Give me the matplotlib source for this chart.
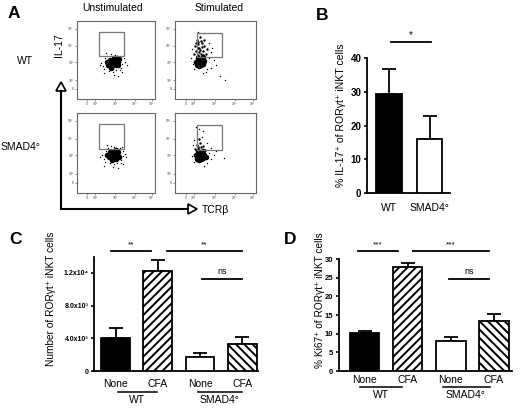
import matplotlib
matplotlib.use('Agg')
import matplotlib.pyplot as plt
from matplotlib.patches import Rectangle, Polygon

plt.rcParams['font.family'] = ['Liberation Sans', 'DejaVu Sans']
plt.rcParams['hatch.linewidth'] = 1.4
plt.rcParams['axes.linewidth'] = 1.3

# ---------------- data ----------------
flow_rows = ['WT', 'SMAD4°']
flow_cols = ['Unstimulated', 'Stimulated']
gate_freq = ['0', '35.7', '0', '13']
flow_ticklabels = ['0', '10²', '10³', '10⁴', '10⁵']

core1 = [(0.40,0.44),(0.44,0.48),(0.48,0.50),(0.52,0.47),(0.46,0.43),(0.50,0.43),(0.42,0.50),(0.47,0.52),
         (0.54,0.51),(0.38,0.47),(0.44,0.40),(0.53,0.44),(0.49,0.46),(0.43,0.45),(0.51,0.53)]
sparse1 = [(0.33,0.42),(0.35,0.38),(0.58,0.45),(0.60,0.52),(0.36,0.52),(0.57,0.40),(0.41,0.36),(0.50,0.37),
           (0.46,0.35),(0.31,0.46),(0.62,0.48),(0.56,0.55),(0.39,0.55),(0.49,0.57),(0.55,0.37),(0.29,0.44),
           (0.58,0.34),(0.47,0.31),(0.64,0.44),(0.34,0.33),(0.60,0.58),(0.37,0.59),(0.52,0.30),(0.43,0.58)]
core2 = [(0.27,0.44),(0.31,0.47),(0.35,0.45),(0.29,0.50),(0.33,0.51),(0.30,0.42),(0.36,0.49),(0.26,0.48),
         (0.32,0.43),(0.34,0.54),(0.28,0.53)]
mid2 = [(0.28,0.57),(0.32,0.58),(0.26,0.62),(0.30,0.65),(0.34,0.62),(0.29,0.70),(0.33,0.72),(0.27,0.76),
        (0.31,0.80),(0.36,0.68),(0.25,0.68),(0.38,0.58),(0.30,0.60),(0.28,0.66),(0.32,0.75),(0.35,0.56),
        (0.27,0.55),(0.40,0.64),(0.24,0.58),(0.33,0.67),(0.29,0.73),(0.36,0.76),(0.26,0.72),(0.31,0.63)]
sparse2 = [(0.45,0.40),(0.42,0.52),(0.22,0.45),(0.40,0.38),(0.48,0.50),(0.55,0.30),(0.36,0.84),(0.28,0.86),
           (0.44,0.60),(0.20,0.52),(0.38,0.35),(0.50,0.44),(0.23,0.38),(0.42,0.72),(0.46,0.66),(0.21,0.64),
           (0.62,0.25),(0.34,0.33)]
core3 = [(0.41,0.45),(0.45,0.49),(0.49,0.50),(0.52,0.46),(0.46,0.44),(0.50,0.42),(0.42,0.51),(0.47,0.53),
         (0.53,0.51),(0.39,0.48),(0.45,0.41),(0.54,0.45),(0.48,0.47),(0.43,0.47),(0.50,0.54)]
sparse3 = [(0.34,0.43),(0.36,0.39),(0.59,0.46),(0.59,0.53),(0.37,0.53),(0.57,0.41),(0.42,0.37),(0.51,0.38),
           (0.47,0.36),(0.32,0.47),(0.61,0.49),(0.55,0.56),(0.40,0.56),(0.48,0.58),(0.56,0.37),(0.30,0.45),
           (0.59,0.36),(0.46,0.32),(0.63,0.45),(0.35,0.34),(0.58,0.58),(0.38,0.60),(0.53,0.31),(0.44,0.59)]
core4 = [(0.27,0.43),(0.31,0.46),(0.35,0.44),(0.29,0.49),(0.33,0.50),(0.30,0.41),(0.36,0.48),(0.26,0.47),
         (0.32,0.42),(0.34,0.53),(0.28,0.52),(0.38,0.45)]
mid4 = [(0.28,0.56),(0.32,0.57),(0.27,0.60),(0.31,0.63),(0.35,0.59),(0.30,0.68),(0.25,0.55),(0.37,0.54),
        (0.29,0.58)]
sparse4 = [(0.24,0.66),(0.27,0.74),(0.33,0.70),(0.22,0.60),(0.40,0.62),(0.45,0.42),(0.42,0.50),(0.21,0.46),
           (0.40,0.37),(0.48,0.48),(0.36,0.34),(0.23,0.39),(0.50,0.52),(0.30,0.80),(0.60,0.44),(0.26,0.82),
           (0.44,0.56),(0.35,0.78)]

B_groups = ['WT', 'SMAD4°']
B_mean = [29.3, 16.0]
B_err = [7.4, 6.8]
B_ticks = [0, 10, 20, 30, 40]

cond = ['None', 'CFA', 'None', 'CFA']
groups = ['WT', 'SMAD4°']
C_mean = [4040, 12240, 1710, 3300]
C_err = [1220, 1350, 490, 860]
C_ticks = [0, 4000, 8000, 12000]
C_ticklabels = ['0', '4.0x10³', '8.0x10³', '1.2x10⁴']

D_mean = [10.2, 27.9, 8.0, 13.4]
D_err = [0.5, 1.1, 1.1, 1.9]
D_ticks = [0, 5, 10, 15, 20, 25, 30]

# ---------------- figure ----------------
W, H = 520, 409
fig = plt.figure(figsize=(W/100, H/100), dpi=100)

def rect(x0, y0, x1, y1):
    return [x0/W, 1 - y1/H, (x1 - x0)/W, (y1 - y0)/H]

ov = fig.add_axes([0, 0, 1, 1])
ov.set_xlim(0, W); ov.set_ylim(H, 0); ov.axis('off')

# Panel letters
for lab, (x, y) in zip('ABCD', [(14, 13), (322, 15), (15, 240), (290, 240)]):
    ov.text(x, y, lab, fontsize=12.5, fontweight='bold', ha='center', va='center')

# ---------------- panel A ----------------
flow_rects = [(77, 21, 155, 99), (175, 21, 256, 99), (77, 113, 155, 193), (175, 113, 256, 193)]
cores = [core1, core2, core3, core4]
mids = [[], mid2, [], mid4]
sparses = [sparse1, sparse2, sparse3, sparse4]
gates = [(0.28, 0.55, 0.32, 0.31), (0.27, 0.54, 0.31, 0.31), (0.28, 0.55, 0.32, 0.31), (0.27, 0.54, 0.31, 0.31)]
tick_x = [0.13, 0.23, 0.49, 0.74, 0.96]
tick_y = [0.13, 0.24, 0.47, 0.68, 0.90]
for i, r in enumerate(flow_rects):
    ax = fig.add_axes(rect(*r))
    ax.set_xlim(0, 1); ax.set_ylim(0, 1)
    for s in ax.spines.values():
        s.set_color('#666666'); s.set_linewidth(0.8)
    ax.set_xticks(tick_x); ax.set_xticklabels(flow_ticklabels)
    ax.set_yticks(tick_y); ax.set_yticklabels(flow_ticklabels)
    ax.tick_params(length=1.5, width=0.5, color='#666666', labelsize=2.5, pad=1, labelcolor='#444444')
    cx, cy = zip(*cores[i])
    ax.scatter(cx, cy, s=16, c='k', linewidths=0)
    if mids[i]:
        mx, my = zip(*mids[i])
        ax.scatter(mx, my, s=3, c='k', linewidths=0)
    sx, sy = zip(*sparses[i])
    ax.scatter(sx, sy, s=1, c='k', linewidths=0)
    g = gates[i]
    ax.add_patch(Rectangle((g[0], g[1]), g[2], g[3], fill=False, ec='#777777', lw=0.9))

for txt, (x, y) in zip(gate_freq, [(134, 29), (240, 30), (134, 123), (205, 122)]):
    ov.text(x, y, txt, fontsize=7, ha='center', va='center')
ov.text(113, 8, flow_cols[0], fontsize=7.5, ha='center', va='center')
ov.text(219, 8, flow_cols[1], fontsize=7.5, ha='center', va='center')
ov.text(25, 61, flow_rows[0], fontsize=7.5, ha='center', va='center')
ov.text(21, 147, flow_rows[1], fontsize=7.5, ha='center', va='center')
ov.text(59, 45, 'IL-17', fontsize=7.5, ha='center', va='center', rotation=90)
ov.text(202, 210, 'TCRβ', fontsize=7.5, ha='left', va='center')
ov.plot([61, 61, 188], [91, 209, 209], color='k', lw=1.5, solid_joinstyle='miter')
ov.add_patch(Polygon([(61, 82), (56, 91), (66, 91)], closed=True, fc='white', ec='k', lw=1.2))
ov.add_patch(Polygon([(197, 209), (188, 204), (188, 214)], closed=True, fc='white', ec='k', lw=1.2))

def style_bar_axes(ax):
    ax.spines['top'].set_visible(False)
    ax.spines['right'].set_visible(False)
    ax.tick_params(axis='y', direction='out', length=2.5, width=1.2, pad=1.5)
    ax.tick_params(axis='x', length=0)
    for t in ax.get_yticklabels():
        t.set_fontweight('bold')

# ---------------- panel B ----------------
axB = fig.add_axes(rect(367, 58, 450, 193))
xb = [0, 1]
axB.bar(xb, B_mean, width=0.64, color=['black', 'white'], edgecolor='black', linewidth=1.3, zorder=3)
axB.errorbar(xb, B_mean, yerr=[[0, 0], B_err], fmt='none', ecolor='k', elinewidth=1.3,
             capsize=5, capthick=1.3, zorder=2)
axB.set_xlim(-0.543, 1.506); axB.set_ylim(0, 40)
axB.set_yticks(B_ticks)
axB.set_xticks(xb); axB.set_xticklabels(B_groups, fontsize=7.5)
axB.tick_params(axis='x', pad=7)
axB.tick_params(axis='y', labelsize=7)
style_bar_axes(axB)
axB.set_ylabel('% IL-17⁺ of RORγt⁺ iNKT cells', fontsize=7.6)
axB.yaxis.set_label_coords(-0.25, 0.574)
axB.plot([0.05, 1.04], [44.7, 44.7], color='k', lw=1.3, clip_on=False)
axB.text(0.545, 45.3, '*', fontsize=7, ha='center', va='bottom')

# ---------------- panel C ----------------
hatches = [None, '////', None, '\\\\\\\\']
colors = ['black', 'white', 'white', 'white']
xc = [0, 1, 2, 3]
axC = fig.add_axes(rect(94, 256.5, 258, 371))
axC.bar(xc, C_mean, width=0.68, color=colors, edgecolor='black', linewidth=1.3, hatch=hatches, zorder=3)
axC.errorbar(xc, C_mean, yerr=[[0]*4, C_err], fmt='none', ecolor='k', elinewidth=1.3,
             capsize=5, capthick=1.3, zorder=2)
axC.set_xlim(-0.51, 3.37); axC.set_ylim(0, 14000)
axC.set_yticks(C_ticks); axC.set_yticklabels(C_ticklabels)
axC.set_xticks(xc); axC.set_xticklabels(cond, fontsize=7.5)
axC.tick_params(axis='x', pad=6)
axC.tick_params(axis='y', labelsize=5)
style_bar_axes(axC)
axC.set_ylabel('Number of RORγt⁺ iNKT cells', fontsize=7.3)
axC.yaxis.set_label_coords(-0.23, 0.63)
for (x0, x1, y, lab) in [(-0.11, 0.84, 14690, '**'), (1.22, 2.99, 14690, '**'), (2.04, 2.99, 11260, 'ns')]:
    axC.plot([x0, x1], [y, y], color='k', lw=1.3, clip_on=False)
    axC.text((x0 + x1)/2, y + 350, lab, fontsize=6.5 if lab == 'ns' else 6, ha='center', va='bottom')

ov.plot([118, 157], [392, 392], color='k', lw=1.1)
ov.plot([198, 242], [392, 392], color='k', lw=1.1)
ov.text(137, 400, groups[0], fontsize=7.5, ha='center', va='center')
ov.text(220, 400, groups[1], fontsize=7.5, ha='center', va='center')

# ---------------- panel D ----------------
axD = fig.add_axes(rect(339, 259, 512, 371))
axD.bar(xc, D_mean, width=0.68, color=colors, edgecolor='black', linewidth=1.3, hatch=hatches, zorder=3)
axD.errorbar(xc, D_mean, yerr=[[0]*4, D_err], fmt='none', ecolor='k', elinewidth=1.3,
             capsize=5, capthick=1.3, zorder=2)
axD.set_xlim(-0.6, 3.42); axD.set_ylim(0, 30)
axD.set_yticks(D_ticks)
axD.set_xticks(xc); axD.set_xticklabels(cond, fontsize=7.5)
axD.tick_params(axis='x', pad=3)
axD.tick_params(axis='y', labelsize=5.5)
style_bar_axes(axD)
axD.set_ylabel('% Ki67⁺ of RORγt⁺ iNKT cells', fontsize=7.3)
axD.yaxis.set_label_coords(-0.08, 0.63)
for (x0, x1, y, lab) in [(-0.16, 0.77, 32.2, '***'), (1.12, 2.88, 32.2, '***'), (1.95, 2.88, 24.7, 'ns')]:
    axD.plot([x0, x1], [y, y], color='k', lw=1.3, clip_on=False)
    axD.text((x0 + x1)/2, y + 0.7, lab, fontsize=6.5 if lab == 'ns' else 6, ha='center', va='bottom')

ov.plot([360, 402], [387, 387], color='k', lw=1.1)
ov.plot([443, 490], [387, 387], color='k', lw=1.1)
ov.text(381, 395, groups[0], fontsize=7.5, ha='center', va='center')
ov.text(466, 395, groups[1], fontsize=7.5, ha='center', va='center')

fig.savefig('out.png', dpi=100)
